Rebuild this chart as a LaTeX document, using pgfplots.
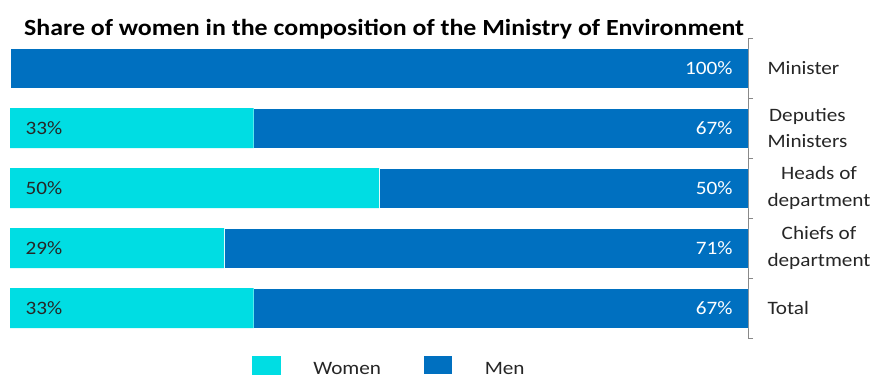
\documentclass[border=0pt]{standalone}
\usepackage{pgfplots}
\pgfplotsset{compat=1.18}
\usepackage{fontspec}
\setmainfont[FakeStretch=1.12]{Carlito}
\definecolor{men}{HTML}{0070C0}
\definecolor{women}{HTML}{00DDE3}
\definecolor{axgray}{HTML}{898989}
\definecolor{txt}{HTML}{262626}
\pgfplotsset{
  geom/.style={at={(10bp,43bp)}, anchor=south west, scale only axis,
    width=738bp, height=300bp, xmin=0, xmax=100, ymin=-0.5, ymax=4.5, y dir=reverse},
}
\begin{document}
\begin{tikzpicture}
\path[use as bounding box] (0,0) rectangle (876bp,381bp);
\begin{axis}[
  geom,
  xbar stacked, bar width=40bp,
  every axis plot post/.append style={
    legend image code/.code={\fill[#1] (0bp,-5bp) rectangle (29bp,14bp);}},
  axis x line=none, axis y line*=right,
  ytick={0,...,4},
  yticklabels={Minister, Deputies\\Ministers, Heads of\\department, Chiefs of\\department, Total},
  major tick length=0pt,
  minor ytick={-0.5,0.5,...,4.5}, minor tick length=5bp, tick align=outside, ytick pos=right,
  y axis line style={color=axgray, line width=1bp},
  every minor tick/.style={axgray, line width=1bp},
  yticklabel style={anchor=west, align=center, font=\fontsize{19}{27}\selectfont, text=txt, xshift=16bp},
  title={Share of women in the composition of the Ministry of Environment},
  title style={font=\fontsize{23.2}{27}\selectfont\bfseries, anchor=base, at={(0.507,1)}, yshift=-3bp, text=black},
  legend style={draw=none, at={(0.328,0)}, anchor=north west, yshift=-17bp,
    legend columns=2, font=\fontsize{19}{23}\selectfont, text=txt, inner sep=0pt,
    /tikz/every odd column/.append style={column sep=30bp},
    /tikz/every even column/.append style={column sep=40bp}},
]
\addplot[fill=women, draw=none] coordinates {(0,0) (33,1) (50,2) (29,3) (33,4)};
\addlegendentry{Women}
\addplot[fill=men, draw=white, line width=0.75bp] coordinates {(100,0) (67,1) (50,2) (71,3) (67,4)};
\addlegendentry{Men}
\end{axis}
\begin{axis}[geom, hide axis, clip=false]
\addplot[draw=none, nodes near coords, point meta=explicit symbolic,
  every node near coord/.append style={anchor=west, xshift=12bp, yshift=0pt, text=txt, font=\fontsize{19}{23}\selectfont}]
  coordinates {(0,1)[33\%] (0,2)[50\%] (0,3)[29\%] (0,4)[33\%]};
\addplot[draw=none, nodes near coords, point meta=explicit symbolic,
  every node near coord/.append style={anchor=east, xshift=-12bp, yshift=0pt, text=white, font=\fontsize{19}{23}\selectfont}]
  coordinates {(100,0)[100\%] (100,1)[67\%] (100,2)[50\%] (100,3)[71\%] (100,4)[67\%]};
\end{axis}
\end{tikzpicture}
\end{document}
